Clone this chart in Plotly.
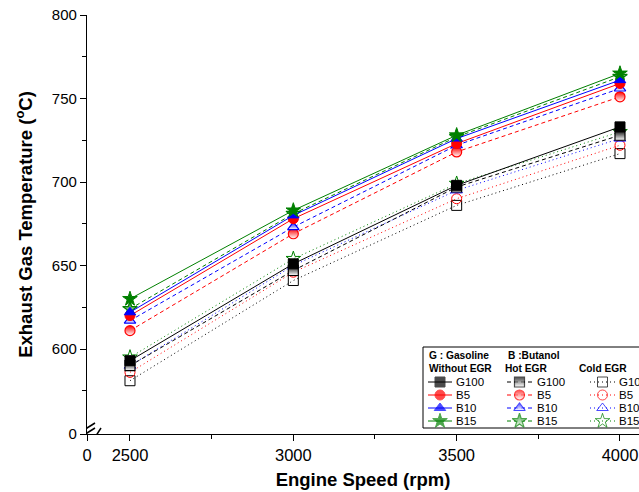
import plotly.graph_objects as go

speed = [2500, 3000, 3500, 4000]

# Without EGR
no_g100 = [593, 651, 698, 733]
no_b5 = [620, 678, 723, 759]
no_b10 = [622, 680, 726, 761]
no_b15 = [630, 683, 728, 765]
# Hot EGR
hot_g100 = [590, 647, 697, 728]
hot_b5 = [611, 669, 718, 751]
hot_b10 = [617, 673, 722, 756]
hot_b15 = [624, 681, 727, 763]
# Cold EGR
cold_g100 = [581, 641, 686, 717]
cold_b5 = [586, 646, 690, 722]
cold_b10 = [590, 650, 695, 726]
cold_b15 = [595, 654, 699, 730]

fuels = ["G100", "B5", "B10", "B15"]
colors = ["#000000", "#ff0000", "#0000ff", "#008000"]
symbols = ["square", "circle", "triangle-up", "star"]
sizes = [10, 10, 10, 11]

groups = [
    ("Without EGR", [no_g100, no_b5, no_b10, no_b15], "solid", "filled"),
    ("Hot EGR", [hot_g100, hot_b5, hot_b10, hot_b15], "4px,3px", "half"),
    ("Cold EGR", [cold_g100, cold_b5, cold_b10, cold_b15], "1px,3px", "open"),
]

x_ticks = [2368.4, 2500, 3000, 3500, 4000]
x_ticktext = ["0", "2500", "3000", "3500", "4000"]
y_ticks = [549.1, 600, 650, 700, 750, 800]
y_ticktext = ["0", "600", "650", "700", "750", "800"]

fig = go.Figure()


def marker_spec(i, style, size):
    c = colors[i]
    if style == "filled":
        return dict(symbol=symbols[i], color=c, size=size, line=dict(color=c, width=1))
    if style == "open":
        return dict(symbol=symbols[i] + "-open", color=c, size=size, line=dict(color=c, width=1))
    return dict(symbol=symbols[i], color=c, size=size,
                gradient=dict(type="vertical", color="white"),
                line=dict(color=c, width=1.2))


# data traces (draw cold, hot, then without EGR on top)
for name, series, dash, style in reversed(groups):
    for i, vals in enumerate(series):
        fig.add_trace(go.Scatter(
            x=speed, y=vals, mode="lines+markers", name=f"{name} {fuels[i]}",
            line=dict(color=colors[i], width=1, dash=dash),
            marker=marker_spec(i, style, sizes[i]),
            showlegend=False, xaxis="x", yaxis="y"))

# legend drawn on a pixel-unit overlay axis
col_x = [(428, 452, 454), (507, 532, 535), (590, 615, 617)]
row_y = [382, 395, 408, 421]
for g, (name, series, dash, style) in enumerate(groups):
    x0, x1, tx = col_x[g]
    for i in range(4):
        fig.add_trace(go.Scatter(
            x=[x0, (x0 + x1) / 2, x1], y=[row_y[i]] * 3, mode="lines+markers",
            line=dict(color=colors[i], width=1, dash=dash),
            marker=dict(marker_spec(i, style, sizes[i]), size=[0, sizes[i], 0]),
            showlegend=False, hoverinfo="skip", xaxis="x2", yaxis="y2"))
        fig.add_annotation(x=tx, y=row_y[i], xref="x2", yref="y2", text=fuels[i],
                           showarrow=False, xanchor="left", yanchor="middle",
                           font=dict(family="Liberation Sans, Arial", size=11.5, color="black"))

hdr_font = dict(family="Liberation Sans, Arial", size=10.2, color="black", weight="bold")
for txt, x, y in [("G : Gasoline", 427, 355), ("B :Butanol", 506, 355),
                  ("Without EGR", 427, 368), ("Hot EGR", 503, 368), ("Cold EGR", 577, 368)]:
    fig.add_annotation(x=x, y=y, xref="x2", yref="y2", text=f"<b>{txt}</b>", showarrow=False,
                       xanchor="left", yanchor="middle", font=hdr_font)

fig.add_shape(type="rect", xref="x2", yref="y2", x0=423, x1=660, y0=347, y1=428,
              line=dict(color="black", width=1), fillcolor="white", layer="below")

# axis break marks
for (a, b, c, d) in [(79, 433, 95, 423), (79, 438, 95, 428), (92, 442, 101, 428)]:
    fig.add_shape(type="line", xref="x2", yref="y2", x0=a, y0=b, x1=c, y1=d,
                  line=dict(color="black", width=1.5))

axis_font = dict(family="Liberation Sans, Arial", size=15, color="black")
title_font = dict(family="Liberation Sans, Arial", size=18.5, color="black", weight="bold")

fig.update_layout(
    width=639, height=492,
    margin=dict(l=87, r=0, t=15, b=58),
    plot_bgcolor="white", paper_bgcolor="white",
    xaxis=dict(range=[2368.4, 4058.2], tickmode="array", tickvals=x_ticks, ticktext=x_ticktext,
               ticks="outside", ticklen=6, tickwidth=1, tickcolor="black",
               showline=True, linecolor="black", linewidth=1.2, showgrid=False, zeroline=False,
               tickfont=dict(axis_font, size=16.5),
               minor=dict(tickmode="array", tickvals=[2750, 3250, 3750], ticks="outside",
                          ticklen=4, tickcolor="black"),
               title=dict(text="<b>Engine Speed (rpm)</b>", font=title_font, standoff=10)),
    yaxis=dict(range=[549.1, 800], tickmode="array", tickvals=y_ticks, ticktext=y_ticktext,
               ticks="outside", ticklen=6, tickwidth=1, tickcolor="black",
               showline=True, linecolor="black", linewidth=1.2, showgrid=False, zeroline=False,
               tickfont=axis_font,
               minor=dict(tickmode="array", tickvals=[575, 625, 675, 725, 775], ticks="outside",
                          ticklen=4, tickcolor="black"),
               title=dict(text="<b>Exhaust Gas Temperature (<sup>o</sup>C)</b>", font=title_font,
                          standoff=14)),
    xaxis3=dict(overlaying="x", side="top", anchor="y", matches="x",
                tickmode="array", tickvals=x_ticks[1:], ticks="inside", ticklen=6,
                tickcolor="black", showticklabels=False, showline=True, linecolor="black",
                linewidth=1.2, showgrid=False, zeroline=False,
                minor=dict(tickmode="array", tickvals=[2750, 3250, 3750], ticks="inside",
                           ticklen=4, tickcolor="black")),
    xaxis2=dict(overlaying="x", range=[87, 639], visible=False, fixedrange=True),
    yaxis2=dict(overlaying="y", range=[434, 15], visible=False, fixedrange=True),
    showlegend=False,
)

fig.write_html("out.html")
